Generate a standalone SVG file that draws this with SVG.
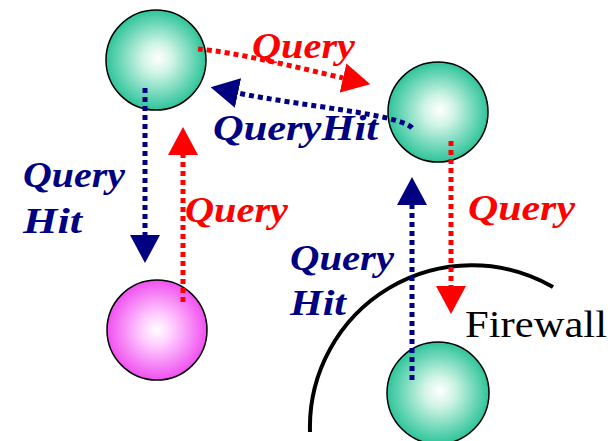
<svg xmlns="http://www.w3.org/2000/svg" width="613" height="441" viewBox="0 0 613 441">
<style>
.lbl{font-family:'Liberation Serif','DejaVu Serif',serif;font-weight:bold;font-style:italic;font-size:36px}
.fw{font-family:'Liberation Serif','DejaVu Serif',serif;font-size:38px;fill:#000}
.red{fill:#ff0000}
.blue{fill:#000080}
.node{stroke:#000;stroke-width:1.5}
.q{fill:none;stroke:#ff0000;stroke-width:5;stroke-dasharray:5 4}
.h{fill:none;stroke:#000080;stroke-width:5;stroke-dasharray:5 4}
</style>
<defs>
<radialGradient id="gGreen" cx="50%" cy="50%" r="50%" fx="52%" fy="48%">
<stop offset="0" stop-color="#ffffff"/>
<stop offset="0.3" stop-color="#d0f4e6"/>
<stop offset="1" stop-color="#2ec49a"/>
</radialGradient>
<radialGradient id="gPink" cx="50%" cy="50%" r="50%">
<stop offset="0" stop-color="#ffffff"/>
<stop offset="0.3" stop-color="#ffd0ff"/>
<stop offset="1" stop-color="#f050f0"/>
</radialGradient>
<marker id="aRed" viewBox="0 0 28 30" refX="0" refY="15" markerWidth="28" markerHeight="30" markerUnits="userSpaceOnUse" orient="auto">
<path d="M0,0 L28,15 L0,30 z" fill="#ff0000"/>
</marker>
<marker id="aBlue" viewBox="0 0 28 30" refX="0" refY="15" markerWidth="28" markerHeight="30" markerUnits="userSpaceOnUse" orient="auto">
<path d="M0,0 L28,15 L0,30 z" fill="#000080"/>
</marker>
</defs>
<rect width="613" height="441" fill="#ffffff"/>
<g id="firewall">
<path d="M310,432 A162,162 0 0 1 553,287" fill="none" stroke="#000" stroke-width="4"/>
<text class="fw" x="465" y="337" textLength="142" lengthAdjust="spacingAndGlyphs">Firewall</text>
</g>
<g id="nodeA"><circle class="node" cx="156" cy="60" r="50" fill="url(#gGreen)"/></g>
<g id="nodeB"><circle class="node" cx="438" cy="112" r="50" fill="url(#gGreen)"/></g>
<g id="nodeC"><circle class="node" cx="157" cy="330" r="50" fill="url(#gPink)"/></g>
<g id="nodeD"><circle class="node" cx="438" cy="393" r="51" fill="url(#gGreen)"/></g>
<g id="connectors">
<path class="q" d="M198,49 C235,52 300,68 343,78" marker-end="url(#aRed)"/>
<path class="h" d="M412,128 C400,114 300,106 238,93" marker-end="url(#aBlue)"/>
<path class="h" d="M145,88 L145,235" marker-end="url(#aBlue)"/>
<path class="q" d="M183,302 L183,155" marker-end="url(#aRed)"/>
<path class="q" d="M451,141 L451,286" marker-end="url(#aRed)"/>
<path class="h" d="M412,380 L412,205" marker-end="url(#aBlue)"/>
</g>
<g id="labels">
<text class="lbl red" x="252" y="58" textLength="103" lengthAdjust="spacingAndGlyphs">Query</text>
<text class="lbl blue" x="213" y="140" textLength="165" lengthAdjust="spacingAndGlyphs">QueryHit</text>
<text class="lbl blue" x="23" y="187" textLength="102" lengthAdjust="spacingAndGlyphs">Query</text>
<text class="lbl blue" x="23" y="233" textLength="59" lengthAdjust="spacingAndGlyphs">Hit</text>
<text class="lbl red" x="185" y="222" textLength="103" lengthAdjust="spacingAndGlyphs">Query</text>
<text class="lbl blue" x="290" y="270" textLength="104" lengthAdjust="spacingAndGlyphs">Query</text>
<text class="lbl blue" x="290" y="315" textLength="56" lengthAdjust="spacingAndGlyphs">Hit</text>
<text class="lbl red" x="468" y="220" textLength="107" lengthAdjust="spacingAndGlyphs">Query</text>
</g>
</svg>
